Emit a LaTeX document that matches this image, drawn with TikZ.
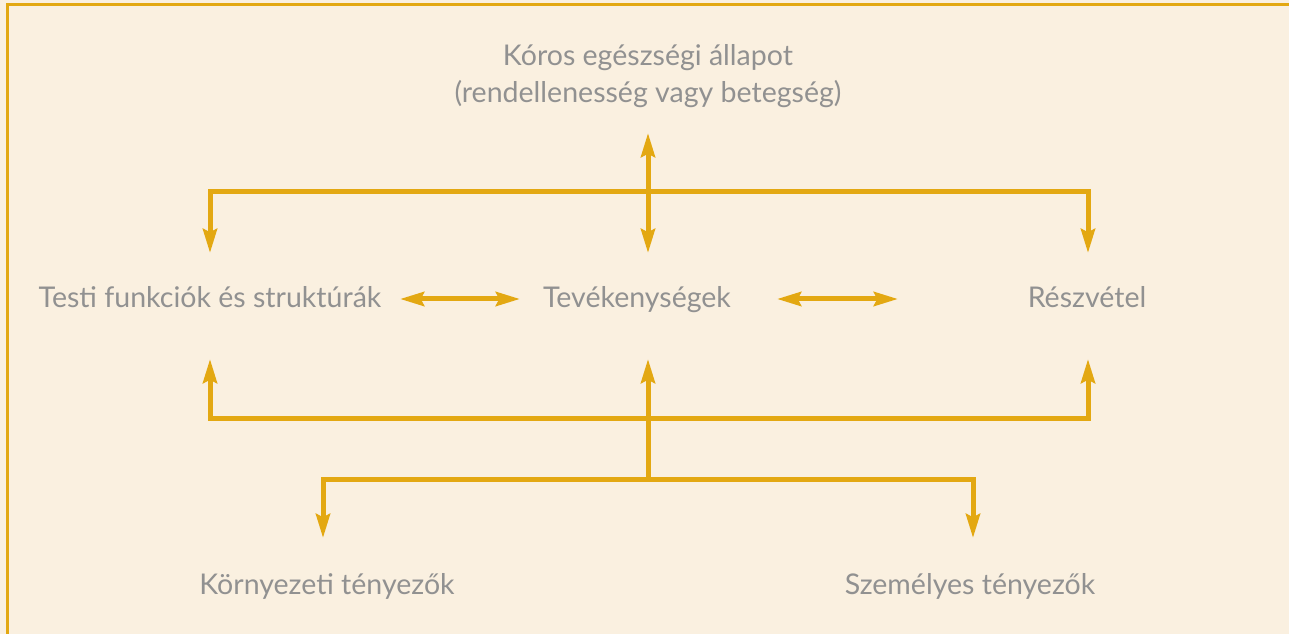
\documentclass[tikz,border=0pt]{standalone}
\usepackage{fontspec}
\setmainfont{Lato}
\usetikzlibrary{arrows.meta}
\definecolor{bgcream}{RGB}{250,240,224}
\definecolor{icfgold}{RGB}{227,168,18}
\definecolor{labelgray}{RGB}{145,145,145}

\begin{document}
\begin{tikzpicture}[x=0.75pt,y=0.75pt,yscale=-1,xscale=1,
  label/.style={text=labelgray,font=\fontsize{21.4}{27.75}\selectfont,inner sep=0.75pt},
  link/.style={draw=icfgold,line width=3.75pt},
  tip/.style={link,-{Stealth[length=18pt,width=10.5pt,inset=2.5pt]}},
  twotip/.style={link,{Stealth[length=18pt,width=10.5pt,inset=2.5pt]}-{Stealth[length=18pt,width=10.5pt,inset=2.5pt]}}]
%uncomment if require: \path (0,634); %set diagram left start at 0, and has height of 634
\useasboundingbox (0,0) rectangle (1289,634);

%Shape: Rectangle (background)
\fill [bgcream] (0,0) rectangle (1289,634);
%Straight Lines (frame)
\draw [icfgold,line width=2.25pt] (7,634) -- (7,5) -- (1289,5);

% Text Node
\node [label,align=center] (koros) at (648,76) {Kóros egészségi állapot\\(rendellenesség vagy betegség)};
% Text Node
\node [label,anchor=base] (testi) at (210,308) {Testi funkciók és struktúrák};
% Text Node
\node [label,anchor=base] (tevek) at (637,308) {Tevékenységek};
% Text Node
\node [label,anchor=base] (reszv) at (1087,308) {Részvétel};
% Text Node
\node [label,anchor=base] (korny) at (327,594) {Környezeti tényezők};
% Text Node
\node [label,anchor=base] (szemely) at (970,594) {Személyes tényezők};

% junctions and arrow ends
\coordinate (hubtop) at (648,192);
\coordinate (korostip) at (648,133);
\coordinate (testitop) at (210,253);
\coordinate (tevektop) at (648,253);
\coordinate (reszvtop) at (1088,253);
\coordinate (hubmid) at (648,419);
\coordinate (hubbot) at (648,480);
\coordinate (testibot) at (210,359);
\coordinate (tevekbot) at (648,359);
\coordinate (reszvbot) at (1088,359);
\coordinate (kornytop) at (323,538);
\coordinate (szemelytop) at (973,538);
\coordinate (pairAl) at (400,299);
\coordinate (pairAr) at (520,299);
\coordinate (pairBl) at (777,299);
\coordinate (pairBr) at (898,299);

%Straight Lines (upper branch)
\draw [tip] (hubtop) -- (korostip);
\draw [tip] (hubtop) -- (tevektop);
\draw [tip] (hubtop) -| (testitop);
\draw [tip] (hubtop) -| (reszvtop);
%Straight Lines (middle row)
\draw [twotip] (pairAl) -- (pairAr);
\draw [twotip] (pairBl) -- (pairBr);
%Straight Lines (lower branch)
\draw [tip] (hubmid) -| (testibot);
\draw [tip] (hubmid) -| (reszvbot);
\draw [tip] (hubbot) -- (tevekbot);
\draw [tip] (hubbot) -| (kornytop);
\draw [tip] (hubbot) -| (szemelytop);

\end{tikzpicture}
\end{document}
